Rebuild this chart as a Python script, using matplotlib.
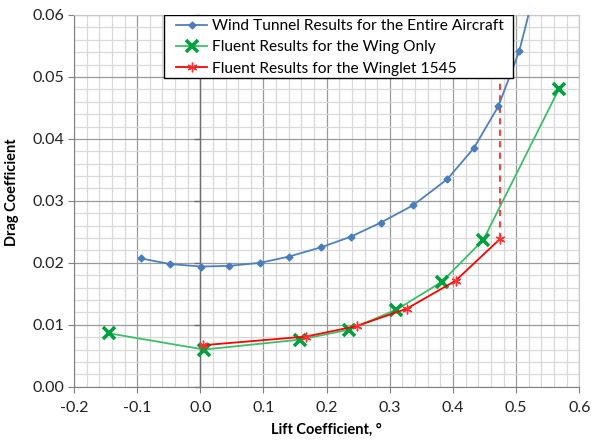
import matplotlib
matplotlib.use("Agg")
import matplotlib.pyplot as plt
from matplotlib.patches import Rectangle
from matplotlib.ticker import MultipleLocator, FormatStrFormatter

# Data
wt_cl = [-0.094, -0.048, 0.001, 0.045, 0.095, 0.140, 0.191, 0.238, 0.286, 0.337, 0.391, 0.433, 0.472, 0.505, 0.535]
wt_cd = [0.0207, 0.0198, 0.0194, 0.0195, 0.0200, 0.0210, 0.0225, 0.0242, 0.0265, 0.0293, 0.0335, 0.0385, 0.0453, 0.0542, 0.0662]

wing_cl = [-0.144, 0.006, 0.158, 0.235, 0.310, 0.382, 0.448, 0.568]
wing_cd = [0.0086, 0.0060, 0.0076, 0.0092, 0.0124, 0.0169, 0.0237, 0.0481]

wl_cl = [0.005, 0.168, 0.248, 0.327, 0.404, 0.474]
wl_cd = [0.0067, 0.0081, 0.0098, 0.0126, 0.0171, 0.0238]

dash_cl = [0.474, 0.474]
dash_cd = [0.0238, 0.0600]

labels = ["Wind Tunnel Results for the Entire Aircraft",
          "Fluent Results for the Wing Only",
          "Fluent Results for the Winglet 1545"]

plt.rcParams['font.family'] = ['Lato', 'DejaVu Sans']

W, H = 592, 445
L, R, T, B = 74, 579.3, 15, 386.7
fig = plt.figure(figsize=(W/100, H/100), dpi=100)
ax = fig.add_axes([L/W, 1-B/H, (R-L)/W, (B-T)/H])

def ax_x(px):
    return (px - L) / (R - L)

def ax_y(py):
    return (B - py) / (B - T)

ax.set_xlim(-0.2, 0.6)
ax.set_ylim(0, 0.06)
ax.xaxis.set_major_locator(MultipleLocator(0.1))
ax.xaxis.set_minor_locator(MultipleLocator(0.02))
ax.yaxis.set_major_locator(MultipleLocator(0.01))
ax.yaxis.set_minor_locator(MultipleLocator(0.002))
ax.xaxis.set_major_formatter(FormatStrFormatter('%.1f'))
ax.yaxis.set_major_formatter(FormatStrFormatter('%.2f'))
ax.grid(which='minor', color='#D9D9D9', lw=0.9, zorder=0)
ax.grid(which='major', color='#9A9A9A', lw=0.9, zorder=0)
ax.set_axisbelow(True)
ax.tick_params(which='minor', length=0)
ax.tick_params(which='major', length=4, color='#808080', labelsize=11.5, colors='#222222', pad=3)
ax.tick_params(axis='x', which='major', pad=6)
for s in ['top', 'right']:
    ax.spines[s].set_color('#C8C8C8')
for s in ['left', 'bottom']:
    ax.spines[s].set_color('#808080')

# vertical axis line at x = 0 with tick marks
ax.axvline(0, color='#6E6E6E', lw=1.0, zorder=1)
ax.plot([0]*7, [0, 0.01, 0.02, 0.03, 0.04, 0.05, 0.06], ls='none', marker=0,
        ms=4, mec='#6E6E6E', mew=1.0, zorder=1, clip_on=False)

ax.plot(dash_cl, dash_cd, color='#FF4040', lw=1.5, ls=(0, (3, 2.5)), zorder=2)
ax.plot(wt_cl, wt_cd, color='#4F81BD', lw=1.3, marker='D', ms=3.5, mfc='#4A7EBB',
        mec='#4A7EBB', label=labels[0], zorder=3)
ax.plot(wing_cl, wing_cd, color='#3CBF6A', lw=1.3, marker='x', ms=8, mew=2.6,
        mec='#00A040', label=labels[1], zorder=4)
ax.plot(wl_cl, wl_cd, color='#FF0000', lw=1.3, marker=(6, 2, 0), ms=7, mew=1.0,
        mec='#FF3030', label=labels[2], zorder=5)

# legend frame
frame = Rectangle((ax_x(164.3), ax_y(78)), ax_x(513.3) - ax_x(164.3), ax_y(15) - ax_y(78),
                  transform=ax.transAxes, facecolor='white', edgecolor='black',
                  lw=1.0, zorder=9)
ax.add_patch(frame)

leg = ax.legend(loc='upper left', bbox_to_anchor=(ax_x(176), ax_y(19)), fontsize=11.2,
                frameon=False, borderpad=0, labelspacing=0.48, handlelength=2.0,
                handletextpad=0.33, borderaxespad=0)
leg.set_zorder(10)

ax.set_xlabel('Lift Coefficient, °', fontsize=10.5, fontweight='bold', labelpad=6)
ax.set_ylabel('Drag Coefficient', fontsize=10.5, fontweight='bold')
ax.yaxis.set_label_coords(-0.109, 0.522)

fig.savefig('out.png', dpi=100)
